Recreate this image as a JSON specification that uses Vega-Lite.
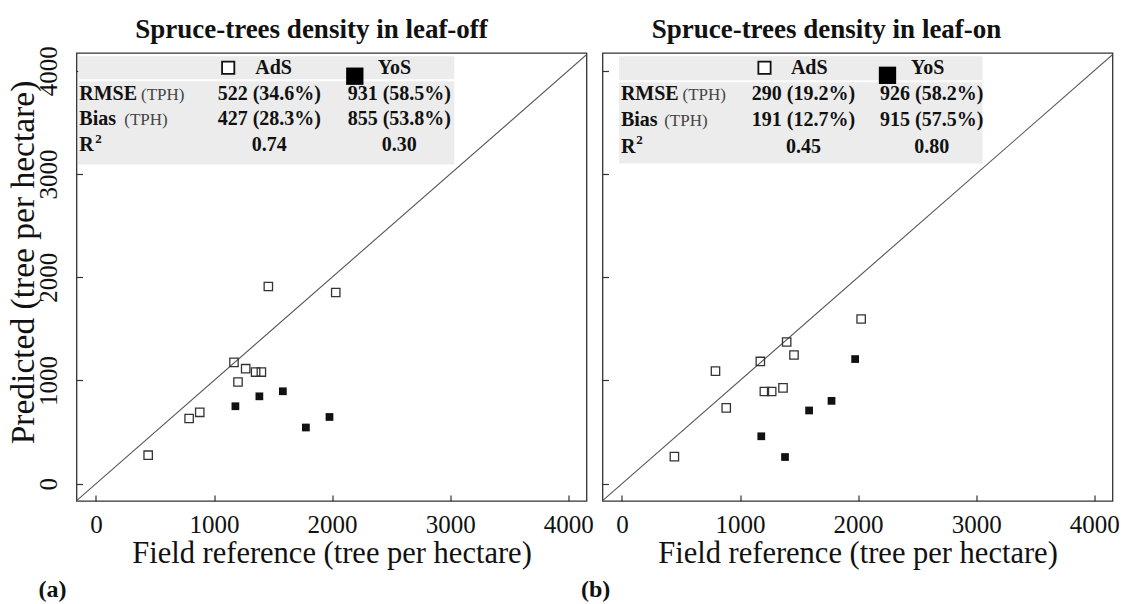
{
  "$schema": "https://vega.github.io/schema/vega-lite/v6.json",
  "background": "white",
  "padding": {"left": 4.5, "top": 15, "right": 4, "bottom": 0},
  "bounds": "flush",
  "spacing": 16,
  "config": {
    "font": "Liberation Serif",
    "view": {"stroke": "#333", "strokeWidth": 1.3},
    "axis": {"grid": false, "domain": false, "tickSize": -6, "tickColor": "#333", "tickWidth": 1.2,
      "labelFont": "Liberation Serif", "labelFontSize": 25, "labelColor": "#111", "labelFlush": false,
      "titleFont": "Liberation Serif", "titleFontWeight": "normal", "titleColor": "#111"},
    "axisX": {"labelPadding": 17, "titleFontSize": 30.5, "titlePadding": 1},
    "axisY": {"labelAngle": 270, "labelAlign": "center", "labelBaseline": "alphabetic", "labelPadding": 26.5, "titleFontSize": 33.5, "titlePadding": -4}
  },
  "hconcat": [
    {
      "width": 510, "height": 448,
      "title": {"text": "Spruce-trees density in leaf-off", "fontSize": 27, "fontWeight": "bold", "font": "Liberation Serif", "color": "#111", "anchor": "middle", "dx": -20, "offset": -19, "baseline": "alphabetic"},
      "resolve": {"scale": {"x": "independent", "y": "independent"}},
      "layer": [
        {
          "layer": [
            {"data": {"values": [{}]}, "mark": {"type": "rect", "color": "#ececec"},
             "encoding": {
               "x": {"datum": -150, "type": "quantitative", "scale": {"domain": [-165, 4155], "nice": false, "zero": false}, "axis": {"values": [0, 1000, 2000, 3000, 4000], "format": "d", "title": "Field reference (tree per hectare)"}},
               "x2": {"datum": 3035},
               "y": {"datum": 4141, "type": "quantitative", "scale": {"domain": [-168, 4172], "nice": false, "zero": false}, "axis": {"values": [0, 1000, 2000, 3000, 4000], "format": "d", "title": "Predicted (tree per hectare)", "titleY": 209}},
               "y2": {"datum": 3092}}},
            {"data": {"values": [{}]}, "mark": {"type": "rule", "color": "white", "strokeWidth": 2},
             "encoding": {
               "x": {"datum": -150, "type": "quantitative", "scale": {"domain": [-165, 4155], "nice": false, "zero": false}, "axis": {"values": [0, 1000, 2000, 3000, 4000], "format": "d", "title": "Field reference (tree per hectare)"}},
               "x2": {"datum": 3035},
               "y": {"datum": 3909, "type": "quantitative", "scale": {"domain": [-168, 4172], "nice": false, "zero": false}, "axis": {"values": [0, 1000, 2000, 3000, 4000], "format": "d", "title": "Predicted (tree per hectare)", "titleY": 209}}}},
            {"data": {"values": [{"ref": -200, "pred": -200}, {"ref": 4200, "pred": 4200}]},
             "mark": {"type": "line", "color": "#555", "strokeWidth": 1.1, "clip": true},
             "encoding": {
               "x": {"field": "ref", "type": "quantitative", "scale": {"domain": [-165, 4155], "nice": false, "zero": false}, "axis": {"values": [0, 1000, 2000, 3000, 4000], "format": "d", "title": "Field reference (tree per hectare)"}},
               "y": {"field": "pred", "type": "quantitative", "scale": {"domain": [-168, 4172], "nice": false, "zero": false}, "axis": {"values": [0, 1000, 2000, 3000, 4000], "format": "d", "title": "Predicted (tree per hectare)", "titleY": 209}}}},
            {"data": {"values": [
               {"stand": "AdS", "ref": 442, "pred": 276}, {"stand": "AdS", "ref": 789, "pred": 631}, {"stand": "AdS", "ref": 879, "pred": 691},
               {"stand": "AdS", "ref": 1169, "pred": 1175}, {"stand": "AdS", "ref": 1203, "pred": 985}, {"stand": "AdS", "ref": 1268, "pred": 1114},
               {"stand": "AdS", "ref": 1352, "pred": 1081}, {"stand": "AdS", "ref": 1401, "pred": 1081}, {"stand": "AdS", "ref": 1460, "pred": 1910},
               {"stand": "AdS", "ref": 2031, "pred": 1852},
               {"stand": "YoS", "ref": 1181, "pred": 750}, {"stand": "YoS", "ref": 1384, "pred": 846}, {"stand": "YoS", "ref": 1583, "pred": 895},
               {"stand": "YoS", "ref": 1778, "pred": 544}, {"stand": "YoS", "ref": 1978, "pred": 646}]},
             "layer": [
               {"transform": [{"filter": "datum.stand === 'AdS'"}],
                "mark": {"type": "point", "shape": "square", "filled": false, "size": 70, "stroke": "#333", "strokeWidth": 1.3, "opacity": 1},
                "encoding": {
                  "x": {"field": "ref", "type": "quantitative", "scale": {"domain": [-165, 4155], "nice": false, "zero": false}, "axis": {"values": [0, 1000, 2000, 3000, 4000], "format": "d", "title": "Field reference (tree per hectare)"}},
                  "y": {"field": "pred", "type": "quantitative", "scale": {"domain": [-168, 4172], "nice": false, "zero": false}, "axis": {"values": [0, 1000, 2000, 3000, 4000], "format": "d", "title": "Predicted (tree per hectare)", "titleY": 209}}}},
               {"transform": [{"filter": "datum.stand === 'YoS'"}],
                "mark": {"type": "point", "shape": "square", "filled": true, "size": 60, "color": "#111", "opacity": 1},
                "encoding": {
                  "x": {"field": "ref", "type": "quantitative", "scale": {"domain": [-165, 4155], "nice": false, "zero": false}, "axis": {"values": [0, 1000, 2000, 3000, 4000], "format": "d", "title": "Field reference (tree per hectare)"}},
                  "y": {"field": "pred", "type": "quantitative", "scale": {"domain": [-168, 4172], "nice": false, "zero": false}, "axis": {"values": [0, 1000, 2000, 3000, 4000], "format": "d", "title": "Predicted (tree per hectare)", "titleY": 209}}}}
             ]},
            {"data": {"values": [{"label": "(a)"}]},
             "mark": {"type": "text", "align": "left", "baseline": "alphabetic", "fontSize": 24, "fontWeight": "bold", "font": "Liberation Serif", "color": "#111"},
             "encoding": {
               "text": {"field": "label"},
               "x": {"datum": -486, "type": "quantitative", "scale": {"domain": [-165, 4155], "nice": false, "zero": false}, "axis": {"values": [0, 1000, 2000, 3000, 4000], "format": "d", "title": "Field reference (tree per hectare)"}},
               "y": {"datum": -1102, "type": "quantitative", "scale": {"domain": [-168, 4172], "nice": false, "zero": false}, "axis": {"values": [0, 1000, 2000, 3000, 4000], "format": "d", "title": "Predicted (tree per hectare)", "titleY": 209}}}}
          ]
        },
        {
          "layer": [
            {"data": {"values": [{"row": "RMSE", "col": "label", "text": "RMSE"}, {"row": "Bias", "col": "label", "text": "Bias"}, {"row": "R²", "col": "label", "text": "R"}]},
             "mark": {"type": "text", "align": "left", "baseline": "alphabetic", "dx": -60, "fontSize": 20, "fontWeight": "bold", "font": "Liberation Serif", "color": "#111"},
             "encoding": {
               "x": {"field": "col", "type": "nominal", "scale": {"type": "point", "domain": ["label", "AdS", "YoS"], "range": [62.8, 322.8], "padding": 0}, "axis": null},
               "y": {"field": "row", "type": "nominal", "scale": {"type": "point", "domain": ["hdr", "RMSE", "Bias", "R²"], "range": [20.8, 98.2], "padding": 0}, "axis": null},
               "text": {"field": "text"}}},
            {"data": {"values": [{"row": "R²", "col": "label", "text": "2"}]},
             "mark": {"type": "text", "align": "left", "baseline": "alphabetic", "dx": -44, "dy": -8.4, "fontSize": 13, "fontWeight": "bold", "font": "Liberation Serif", "color": "#111"},
             "encoding": {
               "x": {"field": "col", "type": "nominal", "scale": {"type": "point", "domain": ["label", "AdS", "YoS"], "range": [62.8, 322.8], "padding": 0}, "axis": null},
               "y": {"field": "row", "type": "nominal", "scale": {"type": "point", "domain": ["hdr", "RMSE", "Bias", "R²"], "range": [20.8, 98.2], "padding": 0}, "axis": null},
               "text": {"field": "text"}}},
            {"data": {"values": [{"row": "RMSE", "col": "label", "text": "(TPH)"}]},
             "mark": {"type": "text", "align": "left", "baseline": "alphabetic", "dx": 1.7, "fontSize": 17, "font": "Liberation Serif", "color": "#444"},
             "encoding": {
               "x": {"field": "col", "type": "nominal", "scale": {"type": "point", "domain": ["label", "AdS", "YoS"], "range": [62.8, 322.8], "padding": 0}, "axis": null},
               "y": {"field": "row", "type": "nominal", "scale": {"type": "point", "domain": ["hdr", "RMSE", "Bias", "R²"], "range": [20.8, 98.2], "padding": 0}, "axis": null},
               "text": {"field": "text"}}},
            {"data": {"values": [{"row": "Bias", "col": "label", "text": "(TPH)"}]},
             "mark": {"type": "text", "align": "left", "baseline": "alphabetic", "dx": -15, "fontSize": 17, "font": "Liberation Serif", "color": "#444"},
             "encoding": {
               "x": {"field": "col", "type": "nominal", "scale": {"type": "point", "domain": ["label", "AdS", "YoS"], "range": [62.8, 322.8], "padding": 0}, "axis": null},
               "y": {"field": "row", "type": "nominal", "scale": {"type": "point", "domain": ["hdr", "RMSE", "Bias", "R²"], "range": [20.8, 98.2], "padding": 0}, "axis": null},
               "text": {"field": "text"}}},
            {"data": {"values": [
               {"row": "RMSE", "col": "AdS", "text": "522 (34.6%)"}, {"row": "RMSE", "col": "YoS", "text": "931 (58.5%)"},
               {"row": "Bias", "col": "AdS", "text": "427 (28.3%)"}, {"row": "Bias", "col": "YoS", "text": "855 (53.8%)"},
               {"row": "R²", "col": "AdS", "text": "0.74"}, {"row": "R²", "col": "YoS", "text": "0.30"}]},
             "mark": {"type": "text", "align": "center", "baseline": "alphabetic", "fontSize": 20, "fontWeight": "bold", "font": "Liberation Serif", "color": "#111"},
             "encoding": {
               "x": {"field": "col", "type": "nominal", "scale": {"type": "point", "domain": ["label", "AdS", "YoS"], "range": [62.8, 322.8], "padding": 0}, "axis": null},
               "y": {"field": "row", "type": "nominal", "scale": {"type": "point", "domain": ["hdr", "RMSE", "Bias", "R²"], "range": [20.8, 98.2], "padding": 0}, "axis": null},
               "text": {"field": "text"}}},
            {"data": {"values": [{"row": "hdr", "col": "AdS", "text": "AdS"}]},
             "mark": {"type": "text", "align": "left", "baseline": "alphabetic", "dx": -14, "fontSize": 20, "fontWeight": "bold", "font": "Liberation Serif", "color": "#111"},
             "encoding": {
               "x": {"field": "col", "type": "nominal", "scale": {"type": "point", "domain": ["label", "AdS", "YoS"], "range": [62.8, 322.8], "padding": 0}, "axis": null},
               "y": {"field": "row", "type": "nominal", "scale": {"type": "point", "domain": ["hdr", "RMSE", "Bias", "R²"], "range": [20.8, 98.2], "padding": 0}, "axis": null},
               "text": {"field": "text"}}},
            {"data": {"values": [{"row": "hdr", "col": "YoS", "text": "YoS"}]},
             "mark": {"type": "text", "align": "left", "baseline": "alphabetic", "dx": -21.6, "fontSize": 20, "fontWeight": "bold", "font": "Liberation Serif", "color": "#111"},
             "encoding": {
               "x": {"field": "col", "type": "nominal", "scale": {"type": "point", "domain": ["label", "AdS", "YoS"], "range": [62.8, 322.8], "padding": 0}, "axis": null},
               "y": {"field": "row", "type": "nominal", "scale": {"type": "point", "domain": ["hdr", "RMSE", "Bias", "R²"], "range": [20.8, 98.2], "padding": 0}, "axis": null},
               "text": {"field": "text"}}},
            {"data": {"values": [{"row": "hdr", "col": "AdS"}]},
             "mark": {"type": "point", "shape": "square", "filled": true, "fill": "white", "stroke": "#111", "strokeWidth": 1.8, "size": 150, "opacity": 1, "xOffset": -41.1, "yOffset": -6},
             "encoding": {
               "x": {"field": "col", "type": "nominal", "scale": {"type": "point", "domain": ["label", "AdS", "YoS"], "range": [62.8, 322.8], "padding": 0}, "axis": null},
               "y": {"field": "row", "type": "nominal", "scale": {"type": "point", "domain": ["hdr", "RMSE", "Bias", "R²"], "range": [20.8, 98.2], "padding": 0}, "axis": null}}},
            {"data": {"values": [{"row": "hdr", "col": "YoS"}]},
             "mark": {"type": "point", "shape": "square", "filled": true, "color": "#000", "size": 300, "opacity": 1, "xOffset": -44.5, "yOffset": 2.4},
             "encoding": {
               "x": {"field": "col", "type": "nominal", "scale": {"type": "point", "domain": ["label", "AdS", "YoS"], "range": [62.8, 322.8], "padding": 0}, "axis": null},
               "y": {"field": "row", "type": "nominal", "scale": {"type": "point", "domain": ["hdr", "RMSE", "Bias", "R²"], "range": [20.8, 98.2], "padding": 0}, "axis": null}}}
          ]
        }
      ]
    },
    {
      "width": 510, "height": 448,
      "title": {"text": "Spruce-trees density in leaf-on", "fontSize": 27, "fontWeight": "bold", "font": "Liberation Serif", "color": "#111", "anchor": "middle", "dx": -31, "offset": -12, "baseline": "alphabetic"},
      "resolve": {"scale": {"x": "independent", "y": "independent"}},
      "layer": [
        {
          "layer": [
            {"data": {"values": [{}]}, "mark": {"type": "rect", "color": "#ececec"},
             "encoding": {
               "x": {"datum": -24, "type": "quantitative", "scale": {"domain": [-165, 4155], "nice": false, "zero": false}, "axis": {"values": [0, 1000, 2000, 3000, 4000], "format": "d", "title": "Field reference (tree per hectare)"}},
               "x2": {"datum": 3054},
               "y": {"datum": 4141, "type": "quantitative", "scale": {"domain": [-168, 4172], "nice": false, "zero": false}, "axis": {"values": [0, 1000, 2000, 3000, 4000], "labels": false, "title": null}},
               "y2": {"datum": 3102}}},
            {"data": {"values": [{}]}, "mark": {"type": "rule", "color": "white", "strokeWidth": 2},
             "encoding": {
               "x": {"datum": -24, "type": "quantitative", "scale": {"domain": [-165, 4155], "nice": false, "zero": false}, "axis": {"values": [0, 1000, 2000, 3000, 4000], "format": "d", "title": "Field reference (tree per hectare)"}},
               "x2": {"datum": 3054},
               "y": {"datum": 3899, "type": "quantitative", "scale": {"domain": [-168, 4172], "nice": false, "zero": false}, "axis": {"values": [0, 1000, 2000, 3000, 4000], "labels": false, "title": null}}}},
            {"data": {"values": [{"ref": -200, "pred": -200}, {"ref": 4200, "pred": 4200}]},
             "mark": {"type": "line", "color": "#555", "strokeWidth": 1.1, "clip": true},
             "encoding": {
               "x": {"field": "ref", "type": "quantitative", "scale": {"domain": [-165, 4155], "nice": false, "zero": false}, "axis": {"values": [0, 1000, 2000, 3000, 4000], "format": "d", "title": "Field reference (tree per hectare)"}},
               "y": {"field": "pred", "type": "quantitative", "scale": {"domain": [-168, 4172], "nice": false, "zero": false}, "axis": {"values": [0, 1000, 2000, 3000, 4000], "labels": false, "title": null}}}},
            {"data": {"values": [
               {"stand": "AdS", "ref": 444, "pred": 262}, {"stand": "AdS", "ref": 792, "pred": 1090}, {"stand": "AdS", "ref": 883, "pred": 734},
               {"stand": "AdS", "ref": 1172, "pred": 1184}, {"stand": "AdS", "ref": 1206, "pred": 893}, {"stand": "AdS", "ref": 1268, "pred": 893},
               {"stand": "AdS", "ref": 1364, "pred": 928}, {"stand": "AdS", "ref": 1395, "pred": 1372}, {"stand": "AdS", "ref": 1457, "pred": 1246},
               {"stand": "AdS", "ref": 2026, "pred": 1595},
               {"stand": "YoS", "ref": 1180, "pred": 459}, {"stand": "YoS", "ref": 1381, "pred": 258}, {"stand": "YoS", "ref": 1585, "pred": 709},
               {"stand": "YoS", "ref": 1775, "pred": 802}, {"stand": "YoS", "ref": 1975, "pred": 1207}]},
             "layer": [
               {"transform": [{"filter": "datum.stand === 'AdS'"}],
                "mark": {"type": "point", "shape": "square", "filled": false, "size": 70, "stroke": "#333", "strokeWidth": 1.3, "opacity": 1},
                "encoding": {
                  "x": {"field": "ref", "type": "quantitative", "scale": {"domain": [-165, 4155], "nice": false, "zero": false}, "axis": {"values": [0, 1000, 2000, 3000, 4000], "format": "d", "title": "Field reference (tree per hectare)"}},
                  "y": {"field": "pred", "type": "quantitative", "scale": {"domain": [-168, 4172], "nice": false, "zero": false}, "axis": {"values": [0, 1000, 2000, 3000, 4000], "labels": false, "title": null}}}},
               {"transform": [{"filter": "datum.stand === 'YoS'"}],
                "mark": {"type": "point", "shape": "square", "filled": true, "size": 60, "color": "#111", "opacity": 1},
                "encoding": {
                  "x": {"field": "ref", "type": "quantitative", "scale": {"domain": [-165, 4155], "nice": false, "zero": false}, "axis": {"values": [0, 1000, 2000, 3000, 4000], "format": "d", "title": "Field reference (tree per hectare)"}},
                  "y": {"field": "pred", "type": "quantitative", "scale": {"domain": [-168, 4172], "nice": false, "zero": false}, "axis": {"values": [0, 1000, 2000, 3000, 4000], "labels": false, "title": null}}}}
             ]},
            {"data": {"values": [{"label": "(b)"}]},
             "mark": {"type": "text", "align": "left", "baseline": "alphabetic", "fontSize": 24, "fontWeight": "bold", "font": "Liberation Serif", "color": "#111"},
             "encoding": {
               "text": {"field": "label"},
               "x": {"datum": -348, "type": "quantitative", "scale": {"domain": [-165, 4155], "nice": false, "zero": false}, "axis": {"values": [0, 1000, 2000, 3000, 4000], "format": "d", "title": "Field reference (tree per hectare)"}},
               "y": {"datum": -1102, "type": "quantitative", "scale": {"domain": [-168, 4172], "nice": false, "zero": false}, "axis": {"values": [0, 1000, 2000, 3000, 4000], "labels": false, "title": null}}}}
          ]
        },
        {
          "layer": [
            {"data": {"values": [{"row": "RMSE", "col": "label", "text": "RMSE"}, {"row": "Bias", "col": "label", "text": "Bias"}, {"row": "R²", "col": "label", "text": "R"}]},
             "mark": {"type": "text", "align": "left", "baseline": "alphabetic", "dx": -54.2, "fontSize": 20, "fontWeight": "bold", "font": "Liberation Serif", "color": "#111"},
             "encoding": {
               "x": {"field": "col", "type": "nominal", "scale": {"type": "point", "domain": ["label", "AdS", "YoS"], "range": [72.6, 329.2], "padding": 0}, "axis": null},
               "y": {"field": "row", "type": "nominal", "scale": {"type": "point", "domain": ["hdr", "RMSE", "Bias", "R²"], "range": [20.8, 99.5], "padding": 0}, "axis": null},
               "text": {"field": "text"}}},
            {"data": {"values": [{"row": "R²", "col": "label", "text": "2"}]},
             "mark": {"type": "text", "align": "left", "baseline": "alphabetic", "dx": -38.8, "dy": -8.4, "fontSize": 13, "fontWeight": "bold", "font": "Liberation Serif", "color": "#111"},
             "encoding": {
               "x": {"field": "col", "type": "nominal", "scale": {"type": "point", "domain": ["label", "AdS", "YoS"], "range": [72.6, 329.2], "padding": 0}, "axis": null},
               "y": {"field": "row", "type": "nominal", "scale": {"type": "point", "domain": ["hdr", "RMSE", "Bias", "R²"], "range": [20.8, 99.5], "padding": 0}, "axis": null},
               "text": {"field": "text"}}},
            {"data": {"values": [{"row": "RMSE", "col": "label", "text": "(TPH)"}]},
             "mark": {"type": "text", "align": "left", "baseline": "alphabetic", "dx": 7.4, "fontSize": 17, "font": "Liberation Serif", "color": "#444"},
             "encoding": {
               "x": {"field": "col", "type": "nominal", "scale": {"type": "point", "domain": ["label", "AdS", "YoS"], "range": [72.6, 329.2], "padding": 0}, "axis": null},
               "y": {"field": "row", "type": "nominal", "scale": {"type": "point", "domain": ["hdr", "RMSE", "Bias", "R²"], "range": [20.8, 99.5], "padding": 0}, "axis": null},
               "text": {"field": "text"}}},
            {"data": {"values": [{"row": "Bias", "col": "label", "text": "(TPH)"}]},
             "mark": {"type": "text", "align": "left", "baseline": "alphabetic", "dx": -10.9, "fontSize": 17, "font": "Liberation Serif", "color": "#444"},
             "encoding": {
               "x": {"field": "col", "type": "nominal", "scale": {"type": "point", "domain": ["label", "AdS", "YoS"], "range": [72.6, 329.2], "padding": 0}, "axis": null},
               "y": {"field": "row", "type": "nominal", "scale": {"type": "point", "domain": ["hdr", "RMSE", "Bias", "R²"], "range": [20.8, 99.5], "padding": 0}, "axis": null},
               "text": {"field": "text"}}},
            {"data": {"values": [
               {"row": "RMSE", "col": "AdS", "text": "290 (19.2%)"}, {"row": "RMSE", "col": "YoS", "text": "926 (58.2%)"},
               {"row": "Bias", "col": "AdS", "text": "191 (12.7%)"}, {"row": "Bias", "col": "YoS", "text": "915 (57.5%)"},
               {"row": "R²", "col": "AdS", "text": "0.45"}, {"row": "R²", "col": "YoS", "text": "0.80"}]},
             "mark": {"type": "text", "align": "center", "baseline": "alphabetic", "fontSize": 20, "fontWeight": "bold", "font": "Liberation Serif", "color": "#111"},
             "encoding": {
               "x": {"field": "col", "type": "nominal", "scale": {"type": "point", "domain": ["label", "AdS", "YoS"], "range": [72.6, 329.2], "padding": 0}, "axis": null},
               "y": {"field": "row", "type": "nominal", "scale": {"type": "point", "domain": ["hdr", "RMSE", "Bias", "R²"], "range": [20.8, 99.5], "padding": 0}, "axis": null},
               "text": {"field": "text"}}},
            {"data": {"values": [{"row": "hdr", "col": "AdS", "text": "AdS"}]},
             "mark": {"type": "text", "align": "left", "baseline": "alphabetic", "dx": -12.5, "fontSize": 20, "fontWeight": "bold", "font": "Liberation Serif", "color": "#111"},
             "encoding": {
               "x": {"field": "col", "type": "nominal", "scale": {"type": "point", "domain": ["label", "AdS", "YoS"], "range": [72.6, 329.2], "padding": 0}, "axis": null},
               "y": {"field": "row", "type": "nominal", "scale": {"type": "point", "domain": ["hdr", "RMSE", "Bias", "R²"], "range": [20.8, 99.5], "padding": 0}, "axis": null},
               "text": {"field": "text"}}},
            {"data": {"values": [{"row": "hdr", "col": "YoS", "text": "YoS"}]},
             "mark": {"type": "text", "align": "left", "baseline": "alphabetic", "dx": -20.8, "fontSize": 20, "fontWeight": "bold", "font": "Liberation Serif", "color": "#111"},
             "encoding": {
               "x": {"field": "col", "type": "nominal", "scale": {"type": "point", "domain": ["label", "AdS", "YoS"], "range": [72.6, 329.2], "padding": 0}, "axis": null},
               "y": {"field": "row", "type": "nominal", "scale": {"type": "point", "domain": ["hdr", "RMSE", "Bias", "R²"], "range": [20.8, 99.5], "padding": 0}, "axis": null},
               "text": {"field": "text"}}},
            {"data": {"values": [{"row": "hdr", "col": "AdS"}]},
             "mark": {"type": "point", "shape": "square", "filled": true, "fill": "white", "stroke": "#111", "strokeWidth": 1.8, "size": 150, "opacity": 1, "xOffset": -38.9, "yOffset": -6},
             "encoding": {
               "x": {"field": "col", "type": "nominal", "scale": {"type": "point", "domain": ["label", "AdS", "YoS"], "range": [72.6, 329.2], "padding": 0}, "axis": null},
               "y": {"field": "row", "type": "nominal", "scale": {"type": "point", "domain": ["hdr", "RMSE", "Bias", "R²"], "range": [20.8, 99.5], "padding": 0}, "axis": null}}},
            {"data": {"values": [{"row": "hdr", "col": "YoS"}]},
             "mark": {"type": "point", "shape": "square", "filled": true, "color": "#000", "size": 300, "opacity": 1, "xOffset": -44.2, "yOffset": 1.5},
             "encoding": {
               "x": {"field": "col", "type": "nominal", "scale": {"type": "point", "domain": ["label", "AdS", "YoS"], "range": [72.6, 329.2], "padding": 0}, "axis": null},
               "y": {"field": "row", "type": "nominal", "scale": {"type": "point", "domain": ["hdr", "RMSE", "Bias", "R²"], "range": [20.8, 99.5], "padding": 0}, "axis": null}}}
          ]
        }
      ]
    }
  ]
}
